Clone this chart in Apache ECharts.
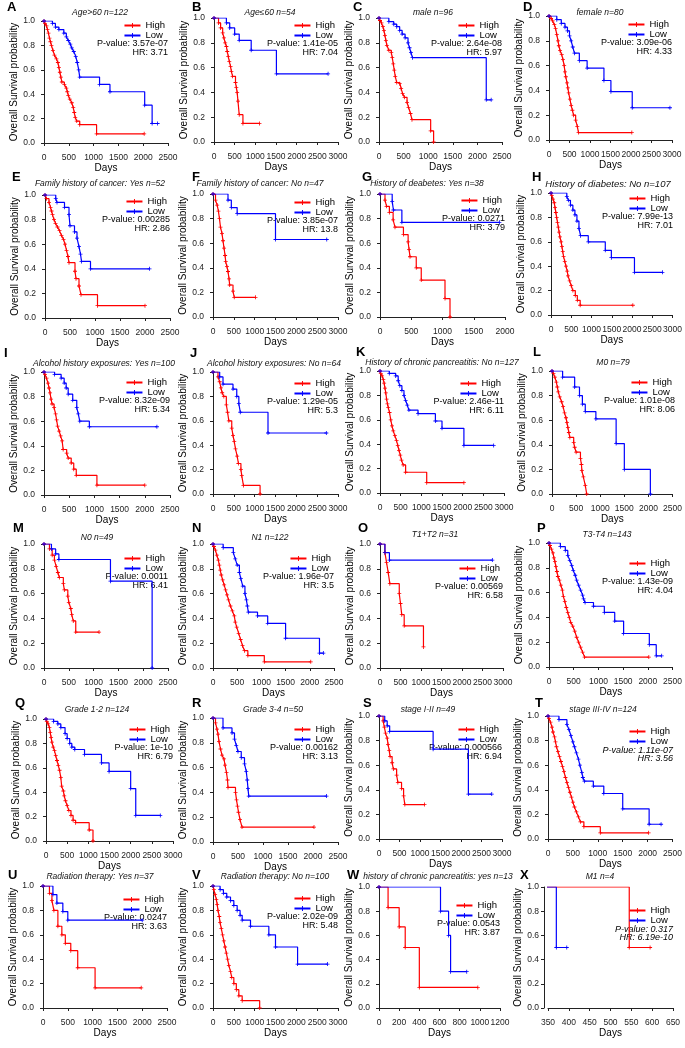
<!DOCTYPE html>
<html>
<head>
<meta charset="utf-8">
<script src="https://cdn.jsdelivr.net/npm/echarts@6/dist/echarts.min.js"></script>
<style>
html, body { margin: 0; padding: 0; background: #fff; }
#chart { width: 685px; height: 1048px; }
</style>
</head>
<body>
<div id="chart"></div>
<script>
// 生存曲线数据 [天数, 生存率]
const highA = [[0,1],[20,0.98],[50,0.96],[70,0.93],[90,0.9],[110,0.86],[130,0.83],[150,0.8],[180,0.76],[210,0.72],[250,0.69],[280,0.66],[300,0.62],[320,0.58],[340,0.54],[360,0.5],[410,0.48],[450,0.45],[470,0.42],[490,0.39],[520,0.36],[560,0.33],[590,0.29],[610,0.25],[630,0.21],[660,0.18],[720,0.15],[1060,0.075],[2020,0.075]];
const lowA = [[0,1],[170,0.98],[230,0.95],[300,0.93],[400,0.9],[450,0.87],[490,0.84],[530,0.81],[560,0.78],[600,0.75],[640,0.71],[670,0.66],[700,0.6],[720,0.54],[1120,0.48],[1330,0.42],[2030,0.31],[2180,0.16],[2290,0.16]];
const highB = [[0,1],[110,0.96],[160,0.92],[210,0.88],[240,0.84],[270,0.8],[300,0.77],[320,0.73],[345,0.69],[370,0.65],[400,0.61],[420,0.57],[450,0.53],[520,0.48],[540,0.44],[560,0.4],[580,0.33],[610,0.22],[700,0.15],[1100,0.15]];
const lowB = [[0,1],[300,0.96],[380,0.92],[500,0.87],[610,0.82],[900,0.74],[1510,0.55],[2760,0.55]];
const highC = [[0,1],[20,0.98],[50,0.96],[80,0.93],[100,0.9],[120,0.86],[140,0.82],[160,0.78],[200,0.74],[250,0.72],[270,0.68],[290,0.63],[310,0.58],[330,0.53],[360,0.48],[420,0.47],[450,0.43],[480,0.39],[520,0.36],[570,0.32],[600,0.28],[640,0.23],[670,0.18],[1050,0.09],[1110,0]];
const lowC = [[0,1],[200,0.97],[300,0.95],[360,0.93],[420,0.9],[470,0.87],[530,0.84],[590,0.8],[620,0.76],[650,0.72],[680,0.68],[2180,0.34],[2280,0.34]];
const highD = [[0,1],[50,0.98],[90,0.96],[130,0.93],[160,0.9],[190,0.85],[220,0.8],[240,0.76],[270,0.72],[310,0.69],[340,0.65],[370,0.6],[390,0.55],[410,0.51],[440,0.46],[460,0.42],[480,0.38],[510,0.33],[540,0.28],[570,0.24],[600,0.2],[650,0.16],[690,0.11],[720,0.06],[2020,0.06]];
const lowD = [[0,1],[190,0.97],[300,0.94],[390,0.91],[450,0.88],[500,0.84],[540,0.8],[580,0.75],[620,0.7],[740,0.64],[930,0.58],[1340,0.48],[1510,0.39],[2030,0.26],[2950,0.26]];
const highE = [[0,1],[30,0.97],[80,0.94],[110,0.9],[130,0.87],[150,0.84],[180,0.8],[210,0.77],[250,0.74],[290,0.71],[330,0.67],[370,0.64],[400,0.6],[430,0.55],[460,0.5],[480,0.45],[600,0.38],[620,0.32],[680,0.26],[720,0.19],[1050,0.1],[2000,0.1]];
const lowE = [[0,1],[215,0.97],[240,0.94],[390,0.9],[480,0.84],[500,0.75],[590,0.7],[640,0.65],[680,0.58],[710,0.52],[730,0.46],[910,0.4],[2090,0.4]];
const highF = [[0,1],[60,0.95],[100,0.91],[130,0.86],[155,0.8],[180,0.73],[215,0.68],[240,0.62],[265,0.56],[290,0.5],[305,0.45],[335,0.41],[360,0.37],[385,0.31],[400,0.26],[480,0.21],[510,0.16],[1020,0.16]];
const lowF = [[0,1],[360,0.95],[440,0.89],[580,0.84],[1500,0.63],[2730,0.63]];
const highG = [[0,1],[80,0.95],[105,0.9],[150,0.85],[210,0.79],[240,0.73],[375,0.67],[450,0.61],[465,0.55],[480,0.49],[580,0.4],[660,0.3],[1040,0.15],[1120,0]];
const lowG = [[0,1],[195,0.94],[215,0.87],[350,0.77],[1910,0.77]];
const highH = [[0,1],[20,0.98],[50,0.95],[80,0.92],[100,0.88],[120,0.84],[140,0.8],[160,0.76],[180,0.72],[200,0.68],[220,0.64],[250,0.6],[270,0.56],[290,0.52],[310,0.48],[340,0.44],[370,0.4],[400,0.36],[420,0.32],[460,0.28],[500,0.24],[540,0.2],[600,0.16],[650,0.12],[720,0.08],[2020,0.08]];
const lowH = [[0,1],[390,0.97],[430,0.94],[480,0.9],[540,0.86],[590,0.82],[640,0.77],[690,0.71],[730,0.65],[920,0.6],[1340,0.53],[1490,0.47],[2060,0.35],[2750,0.35]];
const highI = [[0,1],[20,0.98],[50,0.95],[80,0.91],[100,0.87],[120,0.83],[140,0.78],[160,0.74],[200,0.71],[230,0.66],[250,0.61],[270,0.56],[300,0.52],[330,0.48],[360,0.44],[380,0.37],[450,0.34],[480,0.3],[540,0.26],[590,0.21],[640,0.16],[1050,0.08],[2000,0.08]];
const lowI = [[0,1],[210,0.98],[340,0.95],[400,0.91],[440,0.87],[480,0.82],[570,0.77],[650,0.71],[680,0.66],[710,0.6],[900,0.555],[2240,0.555]];
const highJ = [[0,1],[120,0.96],[160,0.92],[190,0.87],[220,0.83],[260,0.8],[320,0.73],[350,0.67],[380,0.6],[450,0.54],[480,0.48],[510,0.43],[540,0.37],[580,0.31],[610,0.25],[670,0.2],[690,0.15],[730,0.07],[1130,0]];
const lowJ = [[0,1],[160,0.96],[240,0.9],[480,0.86],[570,0.8],[620,0.74],[655,0.67],[1320,0.5],[2720,0.5]];
const highK = [[0,1],[20,0.98],[50,0.96],[80,0.93],[100,0.9],[120,0.86],[140,0.82],[160,0.77],[180,0.73],[200,0.7],[230,0.66],[260,0.6],[290,0.55],[320,0.51],[360,0.47],[400,0.43],[430,0.39],[460,0.35],[490,0.31],[520,0.27],[560,0.23],[620,0.17],[1130,0.085],[2030,0.085]];
const lowK = [[0,1],[225,0.98],[380,0.96],[440,0.92],[480,0.88],[530,0.84],[580,0.8],[620,0.76],[660,0.72],[700,0.68],[920,0.65],[1340,0.59],[1500,0.53],[2030,0.39],[2750,0.39]];
const highL = [[0,1],[30,0.98],[60,0.95],[90,0.91],[110,0.87],[130,0.83],[160,0.79],[200,0.75],[230,0.71],[260,0.66],[290,0.62],[310,0.58],[330,0.54],[350,0.5],[370,0.46],[450,0.42],[470,0.38],[500,0.34],[590,0.29],[610,0.24],[620,0.19],[650,0.14],[690,0.07],[720,0]];
const lowL = [[0,1],[220,0.95],[470,0.87],[570,0.8],[630,0.73],[690,0.67],[910,0.61],[1330,0.41],[1500,0.2],[2040,0]];
const highM = [[0,1],[110,0.96],[165,0.91],[210,0.87],[245,0.82],[280,0.77],[310,0.73],[390,0.68],[410,0.63],[480,0.58],[500,0.53],[540,0.48],[560,0.43],[590,0.38],[640,0.29],[1110,0.29]];
const lowM = [[0,1],[150,0.96],[235,0.92],[300,0.875],[1340,0.7],[2180,0]];
const highN = [[0,1],[20,0.98],[50,0.95],[80,0.91],[110,0.87],[130,0.83],[150,0.79],[170,0.75],[200,0.71],[230,0.67],[260,0.63],[290,0.59],[320,0.55],[360,0.5],[400,0.46],[440,0.42],[460,0.37],[490,0.33],[530,0.28],[570,0.23],[610,0.18],[650,0.14],[720,0.1],[1060,0.05],[2020,0.05]];
const lowN = [[0,1],[210,0.97],[420,0.93],[460,0.88],[500,0.83],[545,0.77],[575,0.72],[615,0.66],[660,0.6],[690,0.55],[710,0.5],[730,0.45],[920,0.42],[1130,0.36],[1500,0.24],[2200,0.12],[2280,0.12]];
const highO = [[0,1],[120,0.93],[160,0.85],[200,0.77],[240,0.68],[470,0.6],[500,0.52],[530,0.43],[590,0.34],[1060,0.17]];
const lowO = [[0,1],[120,0.93],[230,0.87],[2740,0.87]];
const highP = [[0,1],[20,0.98],[50,0.95],[80,0.92],[100,0.88],[120,0.85],[140,0.81],[160,0.77],[180,0.73],[210,0.7],[240,0.66],[270,0.62],[290,0.57],[320,0.53],[350,0.48],[380,0.44],[410,0.4],[440,0.36],[480,0.33],[520,0.29],[560,0.24],[600,0.2],[640,0.16],[680,0.12],[720,0.08],[2020,0.08]];
const lowP = [[0,1],[230,0.97],[330,0.94],[380,0.9],[420,0.86],[460,0.82],[490,0.78],[530,0.74],[560,0.7],[600,0.66],[640,0.62],[680,0.58],[700,0.55],[730,0.52],[900,0.49],[1120,0.44],[1330,0.37],[1510,0.27],[2030,0.18],[2170,0.09],[2280,0.09]];
const highQ = [[0,1],[20,0.98],[50,0.96],[80,0.93],[100,0.89],[120,0.85],[140,0.81],[170,0.77],[200,0.74],[230,0.7],[260,0.66],[290,0.62],[320,0.58],[350,0.52],[370,0.45],[410,0.41],[430,0.37],[460,0.33],[500,0.29],[540,0.25],[590,0.21],[640,0.17],[700,0.15],[1020,0.09],[1110,0]];
const lowQ = [[0,1],[180,0.98],[280,0.96],[350,0.93],[450,0.88],[500,0.84],[560,0.8],[610,0.77],[680,0.75],[910,0.71],[1310,0.64],[1490,0.57],[2000,0.43],[2120,0.21],[2700,0.21]];
const highR = [[0,1],[50,0.96],[80,0.91],[100,0.87],[120,0.81],[150,0.75],[180,0.7],[220,0.67],[240,0.62],[270,0.56],[290,0.5],[300,0.44],[450,0.4],[470,0.34],[490,0.29],[510,0.24],[540,0.18],[580,0.12],[2020,0.12]];
const lowR = [[0,1],[200,0.92],[380,0.88],[430,0.83],[465,0.78],[500,0.73],[565,0.68],[630,0.63],[665,0.57],[685,0.5],[700,0.43],[715,0.37],[2270,0.37]];
const highS = [[0,1],[100,0.96],[130,0.91],[160,0.86],[200,0.82],[220,0.77],[250,0.72],[270,0.67],[320,0.62],[350,0.57],[430,0.52],[460,0.46],[550,0.41],[600,0.35],[630,0.28],[1110,0.28]];
const lowS = [[0,1],[140,0.96],[200,0.92],[260,0.875],[1320,0.73],[2180,0.365],[2750,0.365]];
const highT = [[0,1],[20,0.98],[50,0.95],[80,0.91],[100,0.87],[130,0.83],[150,0.79],[170,0.75],[200,0.71],[230,0.67],[260,0.63],[290,0.59],[320,0.55],[350,0.5],[380,0.46],[410,0.42],[440,0.38],[470,0.34],[500,0.3],[530,0.26],[570,0.22],[610,0.18],[650,0.14],[720,0.1],[1050,0.05],[2020,0.05]];
const lowT = [[0,1],[220,0.97],[380,0.93],[420,0.89],[460,0.84],[500,0.79],[530,0.75],[570,0.7],[610,0.65],[640,0.6],[680,0.54],[700,0.5],[730,0.47],[910,0.43],[1120,0.37],[1500,0.245],[2030,0.12],[2270,0.12]];
const highU = [[0,1],[130,0.94],[180,0.88],[220,0.8],[300,0.67],[380,0.6],[450,0.53],[560,0.47],[700,0.33],[1050,0.165],[1980,0.165]];
const lowU = [[0,1],[200,0.93],[280,0.86],[400,0.79],[500,0.72],[2000,0.72]];
const highV = [[0,1],[20,0.97],[50,0.93],[80,0.89],[100,0.85],[120,0.8],[150,0.75],[170,0.7],[200,0.65],[230,0.6],[260,0.55],[290,0.5],[320,0.45],[350,0.4],[380,0.35],[420,0.3],[450,0.25],[500,0.2],[560,0.15],[620,0.1],[700,0.06],[1120,0]];
const lowV = [[0,1],[170,0.97],[250,0.94],[330,0.91],[420,0.88],[500,0.84],[580,0.8],[650,0.76],[700,0.72],[900,0.67],[1340,0.6],[1500,0.5],[2030,0.36],[2750,0.36]];
const highW = [[0,1],[90,0.83],[200,0.67],[260,0.5],[400,0.17],[980,0.17]];
const lowW = [[0,1],[610,0.8],[690,0.6],[710,0.3],[870,0.3]];
const highX = [[0,1],[545,0.5],[595,0.5]];
const lowX = [[0,1],[370,0.5],[395,0.5]];

const highCurves = [highA, highB, highC, highD, highE, highF, highG, highH, highI, highJ, highK, highL,
  highM, highN, highO, highP, highQ, highR, highS, highT, highU, highV, highW, highX];
const lowCurves = [lowA, lowB, lowC, lowD, lowE, lowF, lowG, lowH, lowI, lowJ, lowK, lowL,
  lowM, lowN, lowO, lowP, lowQ, lowR, lowS, lowT, lowU, lowV, lowW, lowX];

const panelLetters = ['A','B','C','D','E','F','G','H','I','J','K','L','M','N','O','P','Q','R','S','T','U','V','W','X'];
const panelTitles = [
  'Age>60 n=122', 'Age≤60 n=54', 'male n=96', 'female n=80',
  'Family history of cancer: Yes n=52', 'Family history of cancer: No n=47', 'History of deabetes: Yes n=38', 'History of diabetes: No n=107',
  'Alcohol history exposures: Yes n=100', 'Alcohol history exposures: No n=64', 'History of chronic pancreatitis: No n=127', 'M0 n=79',
  'N0 n=49', 'N1 n=122', 'T1+T2 n=31', 'T3-T4 n=143',
  'Grade 1-2 n=124', 'Grade 3-4 n=50', 'stage I-II n=49', 'stage III-IV n=124',
  'Radiation therapy: Yes n=37', 'Radiation therapy: No n=100', 'history of chronic pancreatitis: yes n=13', 'M1 n=4'
];
const pValues = ['3.57e-07','1.41e-05','2.64e-08','3.09e-06','0.00285','3.85e-07','0.0271','7.99e-13',
  '8.32e-09','1.29e-05','2.46e-11','1.01e-08','0.0011','1.96e-07','0.00569','1.43e-09',
  '1e-10','0.00162','0.000566','1.11e-07','0.0247','2.02e-09','0.0543','0.317'];
const hrValues = ['3.71','7.04','5.97','4.33','2.86','13.8','3.79','7.01','5.34','5.3','6.11','8.06',
  '6.41','3.5','6.58','4.04','6.79','3.13','6.94','3.56','3.63','5.48','3.87','6.19e-10'];
const xMin = [0,0,0,0, 0,0,0,0, 0,0,0,0, 0,0,0,0, 0,0,0,0, 0,0,0,350];
const xMax = [2500,3000,2500,3000, 2500,3000,2000,3000, 2500,3000,3000,2500, 2500,2500,3000,2500, 3000,2500,3000,2500, 2500,3000,1200,650];
const xStep = [500,500,500,500, 500,500,500,500, 500,500,500,500, 500,500,500,500, 500,500,500,500, 500,500,200,50];

// 版面: 每个面板绘图区 [左(最小值), 右(最大值), 上(1.0), 下(0.0)]
const boxes = [
  [44,168,21,143],[214,338,18,142],[379,502,18,142],[549,672,16,140],
  [45,170,195,318],[213,338,194,317],[380,505,194,317],[551,673,193,315],
  [44,170,372,495],[213,338,372,494],[380,504,371,493],[552,675,371,494],
  [44,168,544,668],[213,334,544,668],[380,503,544,668],[549,673,543,667],
  [46,173,719,841],[213,338,718,842],[379,502,716,839],[548,673,716,839],
  [43,167,886,1008],[213,338,886,1008],[379,500,887,1008],[548,673,887,1008]
];
const legendDy = [4,7,7,8, 6,8,6,5, 10,11,12,11, 14,14,24,20, 10,11,13,15, 13,12,18,23];
const letterX = [7,192,353,523, 12,192,362,532, 4,190,356,533, 13,192,358,537, 15,192,363,535, 8,192,347,520];
const letterY = [7,7,7,7, 177,177,177,177, 353,353,352,352, 528,528,528,528, 703,703,703,703, 875,875,875,875];
const titleX = [100,270,433,600, 100,260,427,608, 104,274,442,613, 97,270,435,607, 97,273,428,603, 100,275,438,600];
const titleY = [13,13,13,13, 184,184,184,184, 364,364,363,363, 538,538,535,535, 710,710,710,710, 877,877,877,877];
const italicStats = [19, 23];

const FONT = '"Liberation Sans", Arial, sans-serif';
const plusMark = 'path://M-0.6,-3H0.6V-0.6H3V0.6H0.6V3H-0.6V0.6H-3V-0.6H-0.6Z';
const RED = '#FF0000';
const BLUE = '#0000FF';
const AXIS = '#222222';

const grids = [], xAxes = [], yAxes = [], series = [], legends = [], texts = [];

panelLetters.forEach((letter, i) => {
  const [x0, x1, y1, y0] = boxes[i];
  grids.push({ left: x0, top: y1, width: x1 - x0, height: y0 - y1 });
  xAxes.push({
    type: 'value', gridIndex: i, min: xMin[i], max: xMax[i], interval: xStep[i],
    offset: 5, name: 'Days', nameLocation: 'middle', nameGap: 12,
    nameTextStyle: { fontSize: 10, color: '#000', fontFamily: FONT },
    axisLine: { show: true, lineStyle: { color: AXIS, width: 1 } },
    axisTick: { show: true, length: 3, lineStyle: { color: AXIS } },
    axisLabel: { fontSize: 8.5, color: AXIS, margin: 5, showMinLabel: true, showMaxLabel: true,
      fontFamily: FONT, formatter: (v) => String(v) },
    splitLine: { show: false },
  });
  yAxes.push({
    type: 'value', gridIndex: i, min: 0, max: 1, interval: 0.2,
    offset: 4, name: 'Overall Survival probability', nameLocation: 'middle', nameGap: 20,
    nameTextStyle: { fontSize: 10, color: '#000', fontFamily: FONT },
    axisLine: { show: true, lineStyle: { color: AXIS, width: 1 } },
    axisTick: { show: true, length: 3, lineStyle: { color: AXIS } },
    axisLabel: { fontSize: 8.5, color: AXIS, margin: 5, fontFamily: FONT, formatter: (v) => v.toFixed(1) },
    splitLine: { show: false },
  });
  [['High', highCurves[i], RED], ['Low', lowCurves[i], BLUE]].forEach(([name, data, color]) => {
    series.push({
      type: 'line', name: name, xAxisIndex: i, yAxisIndex: i, data: data,
      step: 'end', symbol: plusMark, symbolSize: 4, showSymbol: true, showAllSymbol: true,
      lineStyle: { color: color, width: 1.2 }, itemStyle: { color: color },
      clip: true, silent: true, animation: false,
    });
  });
  legends.push({
    orient: 'vertical', right: 685 - (x1 - 3), top: y1 + legendDy[i] - 4.5,
    padding: 0, itemGap: 0, itemWidth: 16, itemHeight: 6, selectedMode: false,
    textStyle: { fontSize: 9.5, color: '#000', lineHeight: 9, fontFamily: FONT },
    data: ['High', 'Low'],
  });
  // 面板字母和小标题
  texts.push({ type: 'text', x: letterX[i], y: letterY[i],
    style: { text: letter, font: 'bold 13px ' + FONT, fill: '#000', verticalAlign: 'middle', textVerticalAlign: 'middle' } });
  const titleFont = i === 7 ? 'italic 9.5px ' : 'italic 8.5px ';
  texts.push({ type: 'text', x: titleX[i], y: titleY[i],
    style: { text: panelTitles[i], font: titleFont + FONT, fill: '#111', align: 'center', textAlign: 'center', verticalAlign: 'middle', textVerticalAlign: 'middle' } });
  // P值和HR
  const statFont = (italicStats.includes(i) ? 'italic ' : '') + '9px ' + FONT;
  const pY = y1 + legendDy[i] + 19;
  texts.push({ type: 'text', x: x1, y: pY,
    style: { text: 'P-value: ' + pValues[i], font: statFont, fill: '#000', align: 'right', textAlign: 'right', verticalAlign: 'middle', textVerticalAlign: 'middle' } });
  texts.push({ type: 'text', x: x1, y: pY + 8.5,
    style: { text: 'HR: ' + hrValues[i], font: statFont, fill: '#000', align: 'right', textAlign: 'right', verticalAlign: 'middle', textVerticalAlign: 'middle' } });
});

const myChart = echarts.init(document.getElementById('chart'), null, { renderer: 'canvas' });
myChart.setOption({
  animation: false,
  backgroundColor: '#ffffff',
  textStyle: { fontFamily: FONT },
  grid: grids,
  xAxis: xAxes,
  yAxis: yAxes,
  legend: legends,
  series: series,
  graphic: { elements: texts },
});
</script>
</body>
</html>
